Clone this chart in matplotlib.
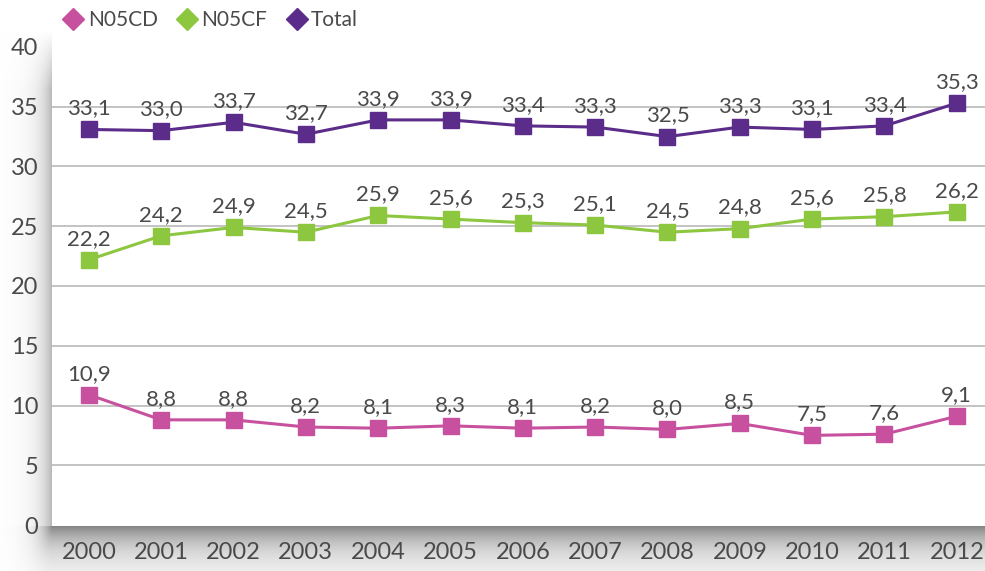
import matplotlib.pyplot as plt
import numpy as np

plt.rcParams['font.family'] = ['Lato', 'DejaVu Sans']

# Дані
years = [2000, 2001, 2002, 2003, 2004, 2005, 2006, 2007, 2008, 2009, 2010, 2011, 2012]
n05cd = [10.9, 8.8, 8.8, 8.2, 8.1, 8.3, 8.1, 8.2, 8.0, 8.5, 7.5, 7.6, 9.1]
n05cf = [22.2, 24.2, 24.9, 24.5, 25.9, 25.6, 25.3, 25.1, 24.5, 24.8, 25.6, 25.8, 26.2]
total = [33.1, 33.0, 33.7, 32.7, 33.9, 33.9, 33.4, 33.3, 32.5, 33.3, 33.1, 33.4, 35.3]

series = [('N05CD', n05cd, '#C8519F'),
          ('N05CF', n05cf, '#8DC63F'),
          ('Total', total, '#5B2C8A')]

text_color = '#4A4A4A'
W, H = 985, 571
fig = plt.figure(figsize=(W / 100, H / 100), dpi=100)

# Тінь під областю графіка
left, right, bottom, top = 52, 985, 525, 47
bg = fig.add_axes([0, 0, 1, 1])
yy, xx = np.mgrid[0:H, 0:W]
dx = np.clip(left - xx, 0, None)
dy = np.clip(yy - bottom, 0, None)
d = np.sqrt((dx * 1.4) ** 2 + (dy * 0.7) ** 2)
shade = np.exp(-d / 16.0) * 0.5
shade[(xx >= left) & (yy <= bottom)] = 0
# ліва тінь слабша, вгорі зникає
shade = np.where(yy <= bottom, shade * 0.6, shade)
shade *= np.clip((yy - 30) / 60.0, 0, 1)
img = np.ones((H, W, 3)) * (1 - shade[..., None])
bg.imshow(img, extent=[0, W, H, 0], aspect='auto', interpolation='bilinear')
bg.set_xlim(0, W)
bg.set_ylim(H, 0)
bg.axis('off')

ax = fig.add_axes([left / W, 1 - bottom / H, (right - left) / W, (bottom - top) / H])
ax.set_facecolor('white')

for name, vals, col in series:
    ax.plot(years, vals, color=col, lw=2.2, marker='s', ms=12, zorder=3)
    for x, v in zip(years, vals):
        ax.annotate(f'{v:.1f}'.replace('.', ','), (x, v), xytext=(0, 8),
                    textcoords='offset points', ha='center', va='bottom',
                    fontsize=16, color=text_color)

ax.set_xlim(1999.49, 2012.39)
ax.set_ylim(0, 40)
ax.set_yticks(range(0, 45, 5))
ax.set_xticks(years)
for y in range(5, 40, 5):
    ax.axhline(y, color='#BEBEBE', lw=1.3, zorder=1)
for s in ax.spines.values():
    s.set_visible(False)
ax.tick_params(length=0, labelsize=17, colors=text_color)
ax.tick_params(axis='y', pad=10)
ax.tick_params(axis='x', pad=12)
for lbl in ax.get_yticklabels():
    lbl.set_horizontalalignment('right')

# Легенда
for i, (name, vals, col) in enumerate(series):
    ax.plot([], [], color=col, marker='D', ms=11, ls='none', label=name)
handles = ax.get_lines()[-3:]
fig.legend(handles, [s[0] for s in series], loc='upper left',
           bbox_to_anchor=(44 / W, 1.015), ncol=3, frameon=False,
           fontsize=15, labelcolor=text_color, handletextpad=0.2,
           columnspacing=0.9, handlelength=1.0)

fig.savefig('out.png', dpi=100)
